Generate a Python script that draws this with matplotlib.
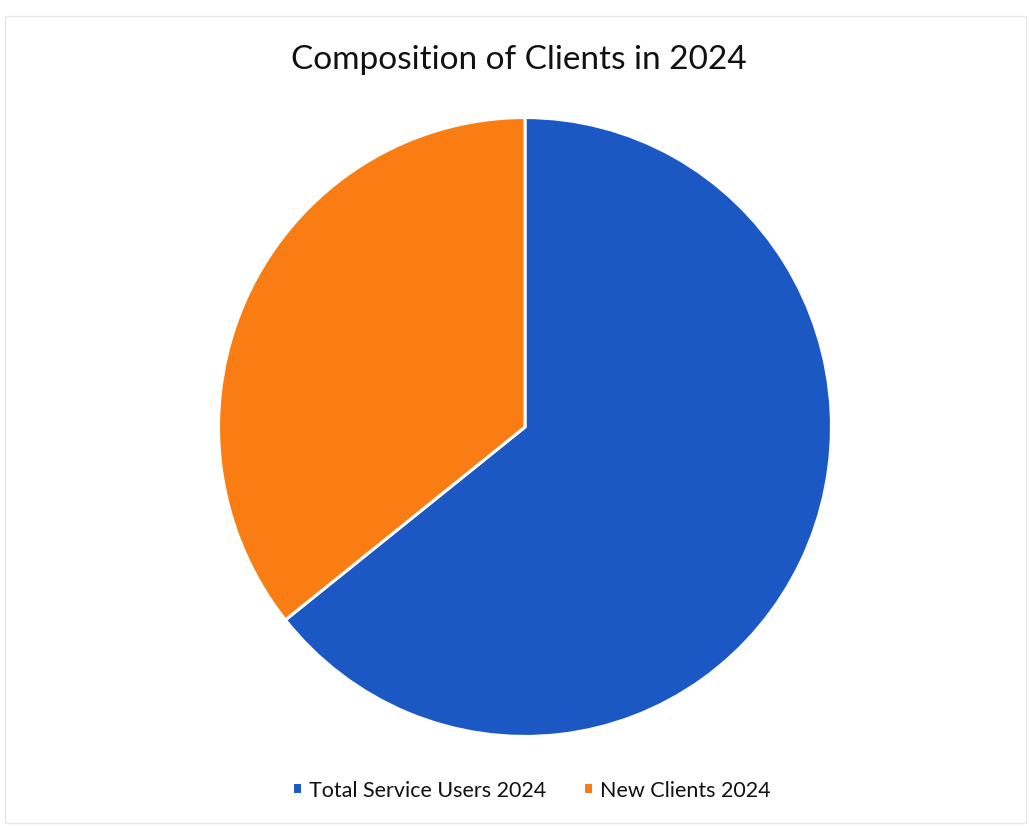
import matplotlib.pyplot as plt
from matplotlib.patches import Rectangle

# Client counts for 2024
labels = ["Total Service Users 2024", "New Clients 2024"]
counts = [180, 100]
colors = ["#1c58c4", "#f97d12"]

plt.rcParams['font.family'] = ['Lato', 'DejaVu Sans']

fig = plt.figure(figsize=(10.31, 8.28), dpi=100)
fig.patch.set_facecolor("white")

# faint chart-area border
fig.add_artist(Rectangle((0.005, 0.005), 0.99, 0.975, transform=fig.transFigure,
                         fill=False, edgecolor="#e6e6e6", linewidth=1))

# pie sits in a box centred on the chart area
ax = fig.add_axes([217 / 1031, 89 / 828, 616 / 1031, 622 / 828])
wedges, _ = ax.pie(counts, colors=colors, startangle=90, counterclock=False,
                   radius=1.0, wedgeprops=dict(edgecolor="white", linewidth=2.2))
ax.set_xlim(-1.005, 1.005)
ax.set_ylim(-1.005, 1.005)
ax.set_aspect("auto")
ax.axis("off")

fig.text(0.5034, 0.927, "Composition of Clients in 2024", ha="center", va="center",
         fontsize=24, color="#111111")

leg = fig.legend(wedges, labels, loc="center", bbox_to_anchor=(0.5155, 0.045),
                 ncol=2, frameon=False, fontsize=15.5, handlelength=0.45, handleheight=0.45,
                 handletextpad=0.35, columnspacing=1.7)
for t in leg.get_texts():
    t.set_color("#111111")

fig.savefig("out.png", dpi=100, facecolor="white")
